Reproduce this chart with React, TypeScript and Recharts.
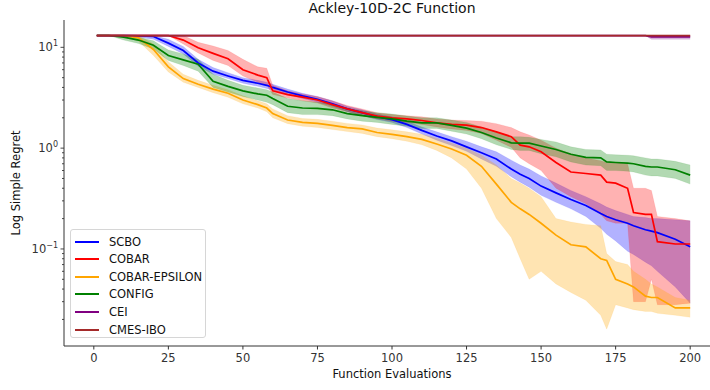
import { Area, ComposedChart, Line, XAxis, YAxis } from "recharts";

const evals = [1, 5, 10, 15, 20, 25, 30, 35, 40, 45, 50, 55, 58, 60, 65, 70, 75, 80, 85, 90, 95, 100, 105, 110, 115, 120, 125, 130, 135, 140, 143, 146, 150, 155, 160, 165, 170, 172, 175, 179, 181, 185, 187, 189, 195, 200];

const scboMean = [13.1, 13.1, 13.1, 13.0, 12.8, 11.0, 9.3, 7.0, 5.8, 5.2, 4.7, 4.4, 4.2, 4.0, 3.6, 3.3, 3.05, 2.75, 2.45, 2.25, 2.05, 1.92, 1.72, 1.5, 1.32, 1.18, 1.03, 0.9, 0.78, 0.62, 0.55, 0.5, 0.42, 0.36, 0.31, 0.27, 0.225, 0.21, 0.195, 0.18, 0.17, 0.155, 0.15, 0.145, 0.125, 0.105];
const scboLow = [13.1, 13.1, 13.1, 12.6, 12.0, 10.2, 8.6, 6.5, 5.4, 4.9, 4.4, 4.1, 3.9, 3.75, 3.4, 3.1, 2.85, 2.6, 2.3, 2.1, 1.92, 1.8, 1.6, 1.38, 1.2, 1.06, 0.93, 0.78, 0.66, 0.52, 0.46, 0.41, 0.34, 0.29, 0.25, 0.21, 0.16, 0.14, 0.12, 0.095, 0.088, 0.074, 0.068, 0.06, 0.042, 0.029];
const scboHigh = [13.1, 13.1, 13.1, 13.1, 13.1, 12.0, 10.2, 7.6, 6.3, 5.6, 5.0, 4.7, 4.5, 4.3, 3.85, 3.5, 3.25, 2.95, 2.6, 2.4, 2.18, 2.05, 1.85, 1.62, 1.45, 1.3, 1.17, 1.03, 0.92, 0.76, 0.68, 0.62, 0.53, 0.45, 0.38, 0.33, 0.28, 0.26, 0.24, 0.22, 0.21, 0.205, 0.2, 0.2, 0.195, 0.19];

const cobarMean = [13.1, 13.1, 13.1, 13.1, 13.1, 13.1, 11.8, 9.9, 8.7, 7.7, 6.0, 5.3, 5.0, 3.7, 3.4, 3.2, 3.0, 2.7, 2.45, 2.25, 2.08, 2.0, 1.95, 1.88, 1.78, 1.72, 1.69, 1.6, 1.45, 1.3, 1.07, 1.03, 0.92, 0.72, 0.58, 0.56, 0.54, 0.46, 0.45, 0.4, 0.23, 0.22, 0.22, 0.118, 0.112, 0.112];
const cobarLow = [13.1, 13.1, 13.1, 13.1, 13.1, 13.1, 10.8, 8.8, 7.4, 6.6, 5.2, 4.5, 4.2, 3.4, 3.15, 2.95, 2.8, 2.5, 2.3, 2.1, 1.95, 1.85, 1.8, 1.72, 1.62, 1.55, 1.5, 1.4, 1.2, 1.02, 0.8, 0.7, 0.6, 0.4, 0.33, 0.28, 0.22, 0.19, 0.18, 0.18, 0.03, 0.03, 0.05, 0.028, 0.028, 0.029];
const cobarHigh = [13.1, 13.1, 13.1, 13.1, 13.1, 13.1, 13.1, 11.2, 10.3, 9.3, 7.6, 6.4, 6.2, 4.2, 3.7, 3.45, 3.25, 2.95, 2.65, 2.45, 2.25, 2.15, 2.1, 2.05, 1.95, 1.9, 1.88, 1.85, 1.75, 1.6, 1.45, 1.35, 1.2, 1.0, 0.88, 0.8, 0.75, 0.72, 0.72, 0.7, 0.4, 0.4, 0.38, 0.21, 0.2, 0.19];

const epsilonMean = [13.1, 13.1, 13.1, 12.4, 9.5, 6.4, 4.9, 4.3, 3.85, 3.5, 3.0, 2.7, 2.5, 2.2, 1.9, 1.8, 1.76, 1.68, 1.6, 1.55, 1.43, 1.37, 1.3, 1.22, 1.1, 0.98, 0.85, 0.66, 0.44, 0.29, 0.25, 0.22, 0.18, 0.137, 0.11, 0.105, 0.08, 0.077, 0.05, 0.045, 0.042, 0.034, 0.033, 0.033, 0.026, 0.026];
const epsilonLow = [13.1, 13.1, 13.1, 11.5, 8.3, 5.7, 4.5, 4.0, 3.55, 3.2, 2.75, 2.5, 2.3, 2.0, 1.75, 1.65, 1.6, 1.53, 1.46, 1.4, 1.3, 1.24, 1.17, 1.08, 0.95, 0.8, 0.62, 0.4, 0.2, 0.13, 0.08, 0.05, 0.06, 0.045, 0.037, 0.031, 0.022, 0.016, 0.028, 0.026, 0.025, 0.024, 0.024, 0.023, 0.022, 0.021];
const epsilonHigh = [13.1, 13.1, 13.1, 13.1, 10.8, 7.2, 5.4, 4.7, 4.2, 3.8, 3.3, 2.95, 2.75, 2.45, 2.1, 1.97, 1.93, 1.85, 1.76, 1.7, 1.58, 1.52, 1.45, 1.37, 1.25, 1.12, 1.0, 0.85, 0.68, 0.5, 0.45, 0.4, 0.33, 0.2, 0.185, 0.175, 0.17, 0.09, 0.075, 0.07, 0.06, 0.05, 0.045, 0.042, 0.033, 0.031];

const configMean = [13.1, 13.1, 12.6, 11.8, 10.5, 8.3, 7.5, 6.8, 4.6, 4.1, 3.7, 3.45, 3.35, 3.1, 2.6, 2.5, 2.48, 2.4, 2.2, 2.1, 2.02, 1.95, 1.85, 1.78, 1.78, 1.68, 1.58, 1.43, 1.26, 1.13, 1.12, 1.12, 1.05, 0.97, 0.87, 0.81, 0.8, 0.73, 0.72, 0.71, 0.7, 0.66, 0.65, 0.65, 0.61, 0.54];
const configLow = [13.1, 13.1, 11.8, 10.9, 9.6, 7.4, 6.6, 5.8, 4.0, 3.6, 3.25, 3.0, 2.85, 2.7, 2.25, 2.15, 2.15, 2.1, 1.95, 1.85, 1.8, 1.72, 1.65, 1.57, 1.57, 1.47, 1.38, 1.24, 1.08, 0.97, 0.95, 0.95, 0.88, 0.82, 0.73, 0.68, 0.67, 0.6, 0.6, 0.59, 0.58, 0.54, 0.53, 0.53, 0.5, 0.44];
const configHigh = [13.1, 13.1, 13.1, 12.6, 11.6, 9.4, 8.6, 7.6, 5.4, 4.7, 4.2, 3.95, 3.8, 3.6, 3.1, 2.95, 2.85, 2.75, 2.5, 2.35, 2.25, 2.18, 2.08, 2.0, 2.0, 1.9, 1.8, 1.62, 1.45, 1.3, 1.3, 1.28, 1.22, 1.15, 1.03, 0.97, 0.96, 0.87, 0.86, 0.85, 0.84, 0.8, 0.78, 0.78, 0.74, 0.68];

const ceiMean = evals.map((x) => (x < 186 ? 13.05 : 12.7));
const ceiLow = evals.map((x) => (x < 186 ? 13.05 : 12.0));
const ceiHigh = evals.map(() => 13.1);

const cmesMean = evals.map(() => 13.05);
const cmesLow = evals.map(() => 12.95);
const cmesHigh = evals.map(() => 13.15);

const xTicks = [0, 25, 50, 75, 100, 125, 150, 175, 200];
const yTicks = [0.02, 0.03, 0.04, 0.05, 0.06, 0.07, 0.08, 0.09, 0.1, 0.2, 0.3, 0.4, 0.5, 0.6, 0.7, 0.8, 0.9, 1, 2, 3, 4, 5, 6, 7, 8, 9, 10];

const series = [
  { key: "scbo", name: "SCBO", color: "#0000ff", mean: scboMean, low: scboLow, high: scboHigh },
  { key: "cobar", name: "COBAR", color: "#ff0000", mean: cobarMean, low: cobarLow, high: cobarHigh },
  { key: "eps", name: "COBAR-EPSILON", color: "#ffa500", mean: epsilonMean, low: epsilonLow, high: epsilonHigh },
  { key: "config", name: "CONFIG", color: "#008000", mean: configMean, low: configLow, high: configHigh },
  { key: "cei", name: "CEI", color: "#800080", mean: ceiMean, low: ceiLow, high: ceiHigh },
  { key: "cmes", name: "CMES-IBO", color: "#a52a2a", mean: cmesMean, low: cmesLow, high: cmesHigh },
];

const rows = evals.map((x, i) => {
  const row: Record<string, number | number[]> = { x };
  for (const s of series) {
    row[s.key] = s.mean[i];
    row[s.key + "Band"] = [s.low[i], s.high[i]];
  }
  return row;
});

const font = "'DejaVu Sans', sans-serif";
const ink = "#333";

function LogTick({ x, y, payload }: { x?: number; y?: number; payload?: { value: number } }) {
  const v = payload?.value ?? 1;
  const exp = Math.round(Math.log10(v));
  const major = Math.abs(Math.log10(v) - exp) < 1e-6;
  return (
    <g>
      <line x1={(x ?? 0) - (major ? 3.5 : 2)} x2={x} y1={y} y2={y} stroke={ink} strokeWidth={0.9} />
      {major && (
        <text x={(x ?? 0) - 6} y={(y ?? 0) + 4} textAnchor="end" fontSize={11.5} fill={ink} fontFamily={font}>
          10
          <tspan dy={-5} fontSize={8}>{exp < 0 ? `\u2212${-exp}` : exp}</tspan>
        </text>
      )}
    </g>
  );
}

export default function App() {
  return (
    <div style={{ position: "absolute", left: 0, top: 0, width: 710, height: 390, overflow: "hidden", background: "#fff", fontFamily: font }}>
      <ComposedChart width={730} height={390} data={rows} margin={{ top: 20, right: 10, left: 0, bottom: 0 }}>
        <XAxis
          dataKey="x"
          type="number"
          domain={[-10, 210]}
          allowDataOverflow
          ticks={xTicks}
          tickSize={3.5}
          tickMargin={4}
          height={44}
          stroke={ink}
          tick={{ fill: ink, fontSize: 11.5, fontFamily: font }}
        />
        <XAxis xAxisId="top" orientation="top" type="number" domain={[-10, 210]} tick={false} tickLine={false} height={0} stroke={ink} />
        <YAxis
          scale="log"
          type="number"
          domain={[0.0109, 18.66]}
          allowDataOverflow
          ticks={yTicks}
          interval={0}
          width={64}
          tickSize={0}
          tickMargin={0}
          tickLine={false}
          stroke={ink}
          tick={<LogTick />}
        />
        {series.map((s) => (
          <Area
            key={s.key + "Band"}
            dataKey={s.key + "Band"}
            type="linear"
            stroke={s.color}
            strokeOpacity={0.15}
            strokeWidth={0.6}
            fill={s.color}
            fillOpacity={0.3}
            isAnimationActive={false}
            dot={false}
            activeDot={false}
          />
        ))}
        {series.map((s) => (
          <Line
            key={s.key}
            dataKey={s.key}
            name={s.name}
            type="linear"
            stroke={s.color}
            strokeWidth={1.7}
            dot={false}
            activeDot={false}
            isAnimationActive={false}
          />
        ))}
      </ComposedChart>
      <div style={{ position: "absolute", left: 0, width: 784, top: 0, textAlign: "center", fontSize: 14, color: "#111", lineHeight: "17px" }}>
        Ackley-10D-2C Function
      </div>
      <div style={{ position: "absolute", left: 0, width: 784, top: 367, textAlign: "center", fontSize: 11.5, color: "#111" }}>
        Function Evaluations
      </div>
      <div
        style={{
          position: "absolute",
          left: 16,
          top: 183,
          transform: "translate(-50%, -50%) rotate(-90deg)",
          whiteSpace: "nowrap",
          fontSize: 11.5,
          color: "#111",
        }}
      >
        Log Simple Regret
      </div>
      <div
        style={{
          position: "absolute",
          left: 70,
          top: 229,
          width: 136,
          height: 109,
          border: "1px solid #d6d6d6",
          borderRadius: 3,
          background: "rgba(255,255,255,0.85)",
          boxSizing: "border-box",
        }}
      >
        {series.map((s, i) => (
          <div key={s.key} style={{ position: "absolute", left: 0, top: 3 + i * 17.6, height: 17, display: "flex", alignItems: "center" }}>
            <span style={{ display: "inline-block", width: 24, height: 2, background: s.color, marginLeft: 4 }} />
            <span style={{ marginLeft: 10, fontSize: 11.5, color: "#111", whiteSpace: "nowrap" }}>{s.name}</span>
          </div>
        ))}
      </div>
    </div>
  );
}
